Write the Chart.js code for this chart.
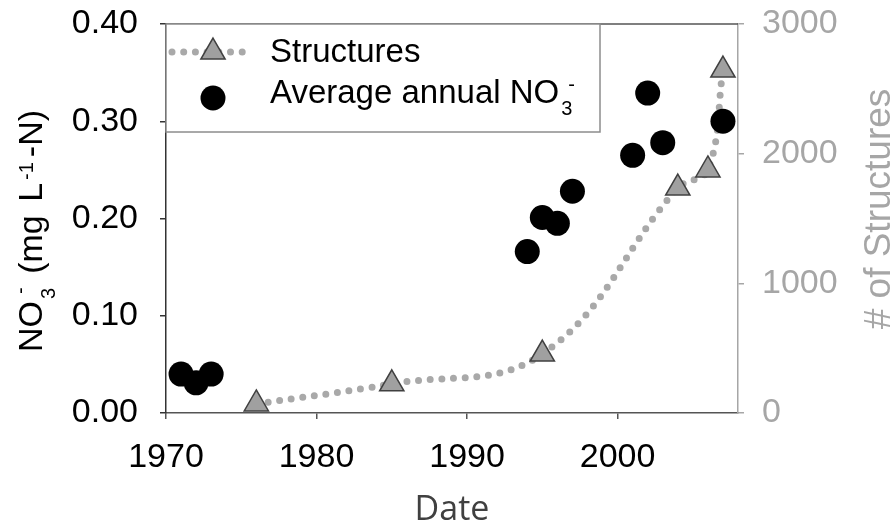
<!DOCTYPE html>
<html>
<head>
<meta charset="utf-8">
<script src="https://cdn.jsdelivr.net/npm/chart.js@4.4.1/dist/chart.umd.min.js"></script>
<style>
  html, body { margin: 0; padding: 0; background: #fff; }
  #wrap { width: 896px; height: 524px; }
</style>
</head>
<body>
<div id="wrap"><canvas id="chart" width="896" height="524"></canvas></div>
<script>
// values
const structureYears = [1976, 1985, 1995, 2004, 2006, 2007];
const structureCounts = [70, 225, 455, 1735, 1875, 2645];

const no3Years = [1971, 1972, 1973, 1994, 1995, 1996, 1997, 2001, 2002, 2003, 2007];
const no3Values = [0.040, 0.031, 0.040, 0.166, 0.201, 0.195, 0.228, 0.265, 0.329, 0.278, 0.300];

const yearTicks = [1970, 1980, 1990, 2000];
const no3Ticks = [0, 0.1, 0.2, 0.3, 0.4];
const structureTicks = [0, 1000, 2000, 3000];

const FONT = "'Liberation Sans', Arial, sans-serif";
const GRAY = "#a6a6a6";

// draw a run of text pieces (for sub/superscripts) centred on 0,0
function drawRich(ctx, parts) {
  let total = 0;
  parts.forEach((p) => {
    ctx.font = p.size + "px " + FONT;
    p.w = ctx.measureText(p.text).width;
    total += (p.gap || 0) + p.w;
  });
  let x = -total / 2;
  ctx.textAlign = "left";
  ctx.textBaseline = "alphabetic";
  parts.forEach((p) => {
    x += p.gap || 0;
    ctx.font = p.size + "px " + FONT;
    ctx.fillText(p.text, x, p.dy || 0);
    x += p.w;
  });
}

// scales should not push the plot area around
function noPad(scale) {
  scale.paddingTop = 0;
  scale.paddingBottom = 0;
  scale.paddingLeft = 0;
  scale.paddingRight = 0;
}

const decorations = {
  id: "decorations",
  beforeDatasetsDraw(chart) {
    const { ctx, chartArea } = chart;
    // top frame line
    ctx.save();
    ctx.strokeStyle = "#555";
    ctx.lineWidth = 1.5;
    ctx.beginPath();
    ctx.moveTo(chartArea.left, chartArea.top);
    ctx.lineTo(chartArea.right, chartArea.top);
    ctx.stroke();
    ctx.restore();
  },
  afterDatasetsDraw(chart) {
    const { ctx, chartArea } = chart;
    const left = chartArea.left;
    const top = chartArea.top;
    ctx.save();
    // legend box
    ctx.fillStyle = "#fff";
    ctx.fillRect(left, top, 434, 108);
    ctx.strokeStyle = "#8c8c8c";
    ctx.lineWidth = 1.5;
    ctx.strokeRect(left, top, 434, 108);

    // Structures sample
    ctx.strokeStyle = "#a9a9a9";
    ctx.lineWidth = 7;
    ctx.lineCap = "round";
    ctx.setLineDash([0, 11.7]);
    ctx.beginPath();
    ctx.moveTo(left + 6, top + 28);
    ctx.lineTo(left + 82, top + 28);
    ctx.stroke();
    ctx.setLineDash([]);
    ctx.lineCap = "butt";
    ctx.lineWidth = 1.5;
    ctx.fillStyle = "#a0a0a0";
    ctx.strokeStyle = "#404040";
    Chart.helpers.drawPoint(ctx, { pointStyle: "triangle", radius: 14, borderWidth: 1.5, rotation: 0 }, left + 47, top + 28);

    ctx.fillStyle = "#000";
    ctx.beginPath();
    ctx.arc(left + 47, top + 74, 12.5, 0, Math.PI * 2);
    ctx.fill();

    ctx.fillStyle = "#000";
    ctx.textAlign = "left";
    ctx.textBaseline = "alphabetic";
    ctx.font = "33px " + FONT;
    ctx.fillText("Structures", left + 104, top + 38);
    ctx.fillText("Average annual NO", left + 104, top + 79);
    const w = ctx.measureText("Average annual NO").width;
    ctx.font = "20px " + FONT;
    ctx.fillText("3", left + 104 + w + 2, top + 91);
    ctx.fillText("-", left + 104 + w + 9, top + 67);
    ctx.restore();
  },
  afterDraw(chart) {
    const { ctx, chartArea } = chart;
    ctx.save();
    // left axis title
    ctx.fillStyle = "#000";
    ctx.translate(42, 231);
    ctx.rotate(-Math.PI / 2);
    drawRich(ctx, [
      { text: "NO", size: 34 },
      { text: "3", size: 20, dy: 13, gap: 2 },
      { text: "-", size: 20, dy: -15, gap: -6 },
      { text: " (mg", size: 34, gap: 4 },
      { text: " L", size: 34, gap: 4 },
      { text: "-1", size: 20, dy: -9, gap: 3 },
      { text: "-N)", size: 34, gap: 5 },
    ]);
    ctx.restore();

    // right axis title
    ctx.save();
    ctx.fillStyle = GRAY;
    ctx.translate(890, 209);
    ctx.rotate(-Math.PI / 2);
    ctx.font = "37px " + FONT;
    ctx.textAlign = "center";
    ctx.textBaseline = "alphabetic";
    ctx.fillText("# of Structures", 0, 0);
    ctx.restore();

    // x axis title
    ctx.save();
    ctx.fillStyle = "#404040";
    ctx.font = "34px 'Open Sans', 'Noto Sans', sans-serif";
    ctx.textAlign = "center";
    ctx.textBaseline = "alphabetic";
    ctx.fillText("Date", (chartArea.left + chartArea.right) / 2, 520);
    ctx.restore();
  },
};

const ctx = document.getElementById("chart").getContext("2d");

new Chart(ctx, {
  type: "line",
  data: {
    datasets: [
      {
        label: "Average annual NO3-",
        data: no3Years.map((yr, i) => ({ x: yr, y: no3Values[i] })),
        yAxisID: "y",
        showLine: false,
        pointRadius: 12.5,
        pointBackgroundColor: "#000",
        pointBorderColor: "#000",
        pointBorderWidth: 0,
        order: 0,
      },
      {
        label: "Structures",
        data: structureYears.map((yr, i) => ({ x: yr, y: structureCounts[i] })),
        yAxisID: "y1",
        borderColor: "#a9a9a9",
        borderWidth: 7,
        borderDash: [0, 11.7],
        borderCapStyle: "round",
        tension: 0.4,
        fill: false,
        pointStyle: "triangle",
        pointRadius: 14,
        pointBackgroundColor: "#a0a0a0",
        pointBorderColor: "#404040",
        pointBorderWidth: 1.5,
        order: 1,
      },
    ],
  },
  options: {
    responsive: false,
    animation: false,
    devicePixelRatio: 1,
    layout: { padding: { top: 24, left: 0, right: 0, bottom: 0 } },
    plugins: {
      legend: { display: false },
      tooltip: { enabled: false },
    },
    scales: {
      x: {
        type: "linear",
        min: 1970,
        max: 2008,
        afterBuildTicks: (scale) => { scale.ticks = yearTicks.map((v) => ({ value: v })); },
        afterFit: (scale) => { scale.height = 111; noPad(scale); },
        ticks: {
          color: "#000",
          font: { family: FONT, size: 34 },
          padding: 18,
          maxRotation: 0,
          callback: (v) => String(v),
        },
        grid: { drawOnChartArea: false, drawTicks: true, tickLength: 6, color: "#555", lineWidth: 1.5 },
        border: { display: true, color: "#555", width: 1.5 },
      },
      y: {
        position: "left",
        min: 0,
        max: 0.4,
        afterBuildTicks: (scale) => { scale.ticks = no3Ticks.map((v) => ({ value: v })); },
        afterFit: (scale) => { scale.width = 166; noPad(scale); },
        ticks: {
          color: "#000",
          font: { family: FONT, size: 34 },
          padding: 22,
          callback: (v) => Number(v).toFixed(2),
        },
        grid: { drawOnChartArea: false, drawTicks: true, tickLength: 6, color: "#333", lineWidth: 1.5 },
        border: { display: true, color: "#333", width: 1.5 },
      },
      y1: {
        position: "right",
        min: 0,
        max: 3000,
        afterBuildTicks: (scale) => { scale.ticks = structureTicks.map((v) => ({ value: v })); },
        afterFit: (scale) => { scale.width = 158; noPad(scale); },
        ticks: {
          color: GRAY,
          font: { family: FONT, size: 34 },
          padding: 18,
          callback: (v) => String(v),
        },
        grid: { drawOnChartArea: false, drawTicks: true, tickLength: 6, color: GRAY, lineWidth: 1.5 },
        border: { display: true, color: GRAY, width: 1.5 },
      },
    },
  },
  plugins: [decorations],
});
</script>
</body>
</html>
